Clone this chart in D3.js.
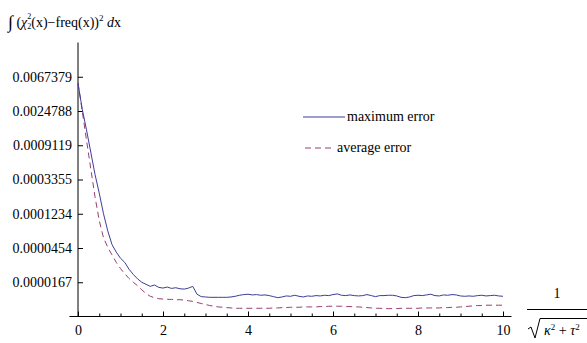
<!DOCTYPE html>
<html>
<head>
<meta charset="utf-8">
<script src="https://cdn.jsdelivr.net/npm/d3@7"></script>
<style>
  body { margin: 0; background: #fff; }
  svg { font-family: "Liberation Serif", "Times New Roman", serif; }
</style>
</head>
<body>
<svg id="chart" width="587" height="343" font-family="Liberation Serif"></svg>
<script>
// sample points along 1/sqrt(kappa^2 + tau^2)
const xValues = [
  0, 0.1, 0.2, 0.3, 0.4, 0.5, 0.6, 0.7, 0.8, 0.9,
  1, 1.1, 1.2, 1.3, 1.4, 1.5, 1.6, 1.7, 1.8, 1.9,
  2, 2.1, 2.2, 2.3, 2.4, 2.5, 2.6, 2.7, 2.8, 2.9,
  3, 3.1, 3.2, 3.3, 3.4, 3.5, 3.6, 3.7, 3.8, 3.9,
  4, 4.1, 4.2, 4.3, 4.4, 4.5, 4.6, 4.7, 4.8, 4.9,
  5, 5.1, 5.2, 5.3, 5.4, 5.5, 5.6, 5.7, 5.8, 5.9,
  6, 6.1, 6.2, 6.3, 6.4, 6.5, 6.6, 6.7, 6.8, 6.9,
  7, 7.1, 7.2, 7.3, 7.4, 7.5, 7.6, 7.7, 7.8, 7.9,
  8, 8.1, 8.2, 8.3, 8.4, 8.5, 8.6, 8.7, 8.8, 8.9,
  9, 9.1, 9.2, 9.3, 9.4, 9.5, 9.6, 9.7, 9.8, 9.9,
  10
];

// natural log of the maximum error
const logMaxError = [
  -5.19, -5.95, -6.55, -7.2, -7.85, -8.4, -9.0, -9.5, -9.9, -10.12,
  -10.3, -10.42, -10.62, -10.77, -10.9, -11.0, -11.06, -11.12, -11.08, -11.15,
  -11.17, -11.14, -11.18, -11.16, -11.19, -11.2, -11.17, -11.12, -11.35, -11.42,
  -11.43, -11.44, -11.44, -11.44, -11.44, -11.44, -11.43, -11.41, -11.38, -11.36,
  -11.35, -11.37, -11.36, -11.38, -11.37, -11.39, -11.42, -11.45, -11.43, -11.4,
  -11.41, -11.38, -11.41, -11.43, -11.4, -11.41, -11.39, -11.4, -11.38, -11.39,
  -11.36, -11.34, -11.38, -11.39, -11.37, -11.39, -11.4, -11.39, -11.36, -11.39,
  -11.42, -11.39, -11.39, -11.38, -11.38, -11.4, -11.44, -11.45, -11.43, -11.39,
  -11.38, -11.39, -11.37, -11.35, -11.39, -11.4, -11.37, -11.38, -11.36, -11.37,
  -11.4, -11.41, -11.4, -11.41, -11.39, -11.38, -11.4, -11.39, -11.38, -11.4,
  -11.41
];

// natural log of the average error
const logAvgError = [
  -5.19, -6.0, -6.85, -7.68, -8.5, -9.2, -9.7, -9.98, -10.2, -10.42,
  -10.6, -10.75, -10.89, -11.0, -11.1, -11.22, -11.33, -11.41, -11.45, -11.48,
  -11.49, -11.5, -11.5, -11.51, -11.51, -11.52, -11.54, -11.56, -11.59, -11.62,
  -11.65, -11.68, -11.7, -11.72, -11.73, -11.74, -11.75, -11.76, -11.76, -11.76,
  -11.76, -11.76, -11.76, -11.76, -11.76, -11.76, -11.75, -11.75, -11.74, -11.74,
  -11.73, -11.73, -11.73, -11.72, -11.72, -11.72, -11.72, -11.71, -11.71, -11.7,
  -11.7, -11.7, -11.7, -11.71, -11.71, -11.72, -11.72, -11.73, -11.74, -11.75,
  -11.76, -11.76, -11.77, -11.77, -11.77, -11.77, -11.76, -11.76, -11.76, -11.76,
  -11.76, -11.75, -11.75, -11.75, -11.75, -11.75, -11.74, -11.74, -11.73, -11.73,
  -11.72, -11.71, -11.7, -11.69, -11.68, -11.68, -11.67, -11.67, -11.67, -11.67,
  -11.67
];

const xTicks = [0, 2, 4, 6, 8, 10];
const xMinorTicks = [0.5, 1, 1.5, 2.5, 3, 3.5, 4.5, 5, 5.5, 6.5, 7, 7.5, 8.5, 9, 9.5];
const yTicks = [0.0067379, 0.0024788, 0.0009119, 0.0003355, 0.0001234, 0.0000454, 0.0000167];
const seriesNames = ['maximum error', 'average error'];
const seriesColors = ['#3d3d99', '#993d71'];

const svg = d3.select('#chart');

const x = d3.scaleLinear().domain([0, 10]).range([78, 503]);
const y = d3.scaleLog().base(Math.E)
  .domain([Math.exp(-12), Math.exp(-4)])
  .range([316.5, 42.5]);

// axes lines
svg.append('line')
  .attr('x1', x(-0.2)).attr('x2', x(10.2))
  .attr('y1', y(Math.exp(-12))).attr('y2', y(Math.exp(-12)))
  .attr('stroke', '#000').attr('stroke-width', 1);
svg.append('line')
  .attr('x1', x(0)).attr('x2', x(0))
  .attr('y1', y(Math.exp(-4))).attr('y2', y(Math.exp(-12)))
  .attr('stroke', '#000').attr('stroke-width', 1);

let gx = svg.append('g')
  .attr('transform', 'translate(0,' + y(Math.exp(-12)) + ')')
  .call(d3.axisBottom(x).tickValues(xTicks).tickSizeInner(-5).tickSizeOuter(0)
    .tickPadding(9).tickFormat(d3.format('d')));
gx.select('.domain').remove();

let gxMinor = svg.append('g')
  .attr('transform', 'translate(0,' + y(Math.exp(-12)) + ')')
  .call(d3.axisBottom(x).tickValues(xMinorTicks).tickSizeInner(-3).tickSizeOuter(0)
    .tickFormat(''));
gxMinor.select('.domain').remove();

let gy = svg.append('g')
  .attr('transform', 'translate(' + x(0) + ',0)')
  .call(d3.axisLeft(y).tickValues(yTicks).tickSizeInner(-5).tickSizeOuter(0)
    .tickPadding(6).tickFormat(d3.format('.7f')));
gy.select('.domain').remove();

svg.selectAll('.tick text')
  .attr('font-family', 'Liberation Serif')
  .attr('font-size', 14)
  .attr('fill', '#000');
svg.selectAll('.tick line').attr('stroke', '#000');
gx.attr('font-family', null).attr('font-size', null);
gy.attr('font-family', null).attr('font-size', null);

// curves
let line = d3.line()
  .x(function (d, i) { return x(xValues[i]); })
  .y(function (d) { return y(Math.exp(d)); });

svg.append('path')
  .datum(logAvgError)
  .attr('d', line)
  .attr('fill', 'none')
  .attr('stroke', seriesColors[1])
  .attr('stroke-width', 1)
  .attr('stroke-dasharray', '6,4');

svg.append('path')
  .datum(logMaxError)
  .attr('d', line)
  .attr('fill', 'none')
  .attr('stroke', seriesColors[0])
  .attr('stroke-width', 1);

// legend
let legend = svg.append('g').attr('font-size', 14);
legend.append('line')
  .attr('x1', 303).attr('x2', 345).attr('y1', 117).attr('y2', 117)
  .attr('stroke', seriesColors[0]);
legend.append('text').attr('x', 347).attr('y', 121).text(seriesNames[0]);
legend.append('line')
  .attr('x1', 305).attr('x2', 334).attr('y1', 148).attr('y2', 148)
  .attr('stroke', seriesColors[1]).attr('stroke-dasharray', '6,4');
legend.append('text').attr('x', 337).attr('y', 152).text(seriesNames[1]);

// y axis label
let title = svg.append('text').attr('x', 8).attr('y', 27).attr('font-size', 14);
title.append('tspan').attr('font-size', 18).attr('dy', 1).text('\u222B');
title.append('tspan').attr('dy', -1).text(' (');
title.append('tspan').attr('font-style', 'italic').text('\u03C7');
title.append('tspan').attr('font-size', 8).attr('dy', -8).text('2');
title.append('tspan').attr('font-size', 8).attr('dx', -4).attr('dy', 10).text('2');
title.append('tspan').attr('dy', -2).text('(x)\u2212freq(x))');
title.append('tspan').attr('font-size', 9).attr('dy', -6).text('2');
title.append('tspan').attr('dy', 6).text(' ');
title.append('tspan').attr('font-style', 'italic').text('d');
title.append('tspan').text('x');

// x axis label: 1 / sqrt(kappa^2 + tau^2)
let xl = svg.append('g').attr('font-size', 14);
xl.append('text').attr('x', 557).attr('y', 298).attr('text-anchor', 'middle').text('1');
xl.append('line').attr('x1', 527).attr('x2', 587).attr('y1', 309.5).attr('y2', 309.5)
  .attr('stroke', '#000');
xl.append('path')
  .attr('d', 'M528,329 L531,327 L535,338 L540,318.5 L587,318.5')
  .attr('fill', 'none').attr('stroke', '#000').attr('stroke-width', 1);
let den = xl.append('text').attr('x', 544).attr('y', 335);
den.append('tspan').attr('font-style', 'italic').text('\u03BA');
den.append('tspan').attr('font-size', 9).attr('dy', -5).text('2');
den.append('tspan').attr('dy', 5).text(' + ');
den.append('tspan').attr('font-style', 'italic').text('\u03C4');
den.append('tspan').attr('font-size', 9).attr('dy', -5).text('2');
</script>
</body>
</html>
